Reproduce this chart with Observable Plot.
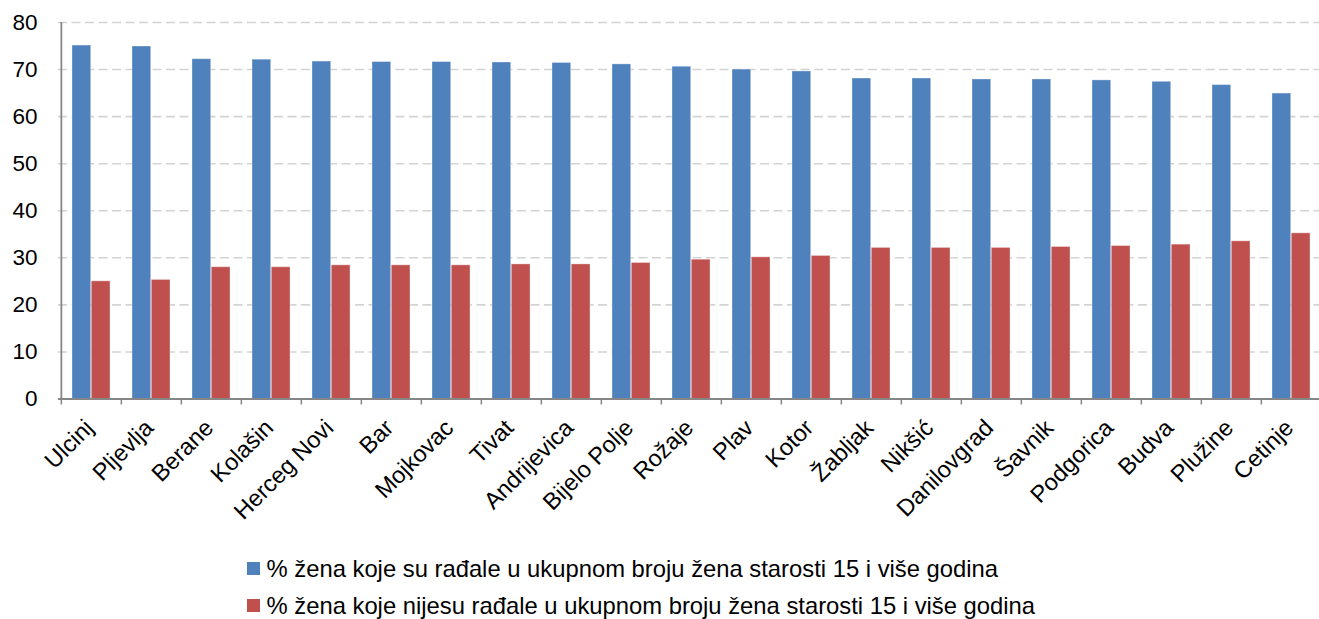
<!DOCTYPE html>
<html>
<head>
<meta charset="utf-8">
<script src="https://cdn.jsdelivr.net/npm/d3@7"></script>
<script src="https://cdn.jsdelivr.net/npm/@observablehq/plot@0.6"></script>
<style>
  html, body { margin: 0; padding: 0; background: #fff; overflow: hidden; }
  body { font-family: Arial, "Liberation Sans", sans-serif; }
  #legend { position: relative; height: 79px; }
  .item { position: absolute; left: 247px; display: flex; align-items: center; font-size: 23.8px; line-height: 24px; color: #000; white-space: nowrap; }
  .sw { width: 12.5px; height: 12.5px; margin-right: 7px; flex: none; }
</style>
</head>
<body>
<div id="chart"></div>
<div id="legend"></div>
<script>
const cities = ["Ulcinj","Pljevlja","Berane","Kolašin","Herceg Novi","Bar","Mojkovac","Tivat","Andrijevica","Bijelo Polje","Rožaje","Plav","Kotor","Žabljak","Nikšić","Danilovgrad","Šavnik","Podgorica","Budva","Plužine","Cetinje"];
const radale = [75.1,74.9,72.2,72.1,71.7,71.6,71.6,71.5,71.4,71.1,70.6,70.0,69.6,68.1,68.1,67.9,67.9,67.7,67.4,66.7,64.9];
const nisuRadale = [25.0,25.3,28.0,28.0,28.4,28.4,28.4,28.6,28.6,28.9,29.6,30.1,30.4,32.1,32.1,32.1,32.3,32.5,32.8,33.5,35.2];
const yTicks = [0,10,20,30,40,50,60,70,80];
const seriesNames = [
  "% žena koje su rađale u ukupnom broju žena starosti 15 i više godina",
  "% žena koje nijesu rađale u ukupnom broju žena starosti 15 i više godina"
];
const colors = ["#4F81BD", "#C0504D"];

const data = cities.map((c, i) => ({city: c, a: radale[i], b: nisuRadale[i]}));

const W = 1319, ML = 58, MR = -5, PI = 0.36, PO = 0.18;
const step = (W - ML - MR) / (cities.length - PI + 2 * PO);
const bw = step * (1 - PI);
const axisColor = "#868686";

const plot = Plot.plot({
  width: W,
  height: 540,
  marginLeft: ML,
  marginRight: MR,
  marginTop: 22,
  marginBottom: 141.5,
  style: {fontFamily: "Arial, 'Liberation Sans', sans-serif", fontSize: "23px", color: "#000", background: "#fff"},
  x: {domain: cities, paddingInner: PI, paddingOuter: PO, label: null},
  y: {domain: [0, 80], label: null},
  marks: [
    Plot.ruleY(yTicks.filter(t => t > 0), {stroke: "#d3d3d3", strokeWidth: 1.6, strokeDasharray: "9,4.5"}),
    Plot.barY(data, {x: "city", y: "a", fill: colors[0], insetRight: bw / 2, stroke: "#ffffff", strokeOpacity: 0.35, strokeWidth: 1}),
    Plot.barY(data, {x: "city", y: "b", fill: colors[1], insetLeft: bw / 2, stroke: "#ffffff", strokeOpacity: 0.35, strokeWidth: 1}),
    Plot.ruleY([0], {stroke: axisColor, strokeWidth: 1.8}),
    Plot.ruleX([cities[0]], {y1: 0, y2: 80, dx: -step / 2, stroke: axisColor, strokeWidth: 1.8}),
    Plot.axisX({tickSize: 6, tickFormat: () => "", dx: -step / 2, stroke: axisColor, strokeWidth: 1.5}),
    Plot.axisX({tickSize: 0, tickRotate: -45, tickPadding: 25, dx: -2, fontSize: 23.5, fill: "#000"}),
    Plot.axisY({ticks: yTicks, tickSize: 0, tickPadding: 21, fontSize: 22.5, fill: "#000"})
  ]
});
document.getElementById("chart").appendChild(plot);

const legend = document.getElementById("legend");
seriesNames.forEach((name, i) => {
  const item = document.createElement("div");
  item.className = "item";
  item.style.top = (i === 0 ? 16.7 : 53.5) + "px";
  const sw = document.createElement("span");
  sw.className = "sw";
  sw.style.background = colors[i];
  const tx = document.createElement("span");
  tx.textContent = name;
  item.appendChild(sw);
  item.appendChild(tx);
  legend.appendChild(item);
});
</script>
</body>
</html>
